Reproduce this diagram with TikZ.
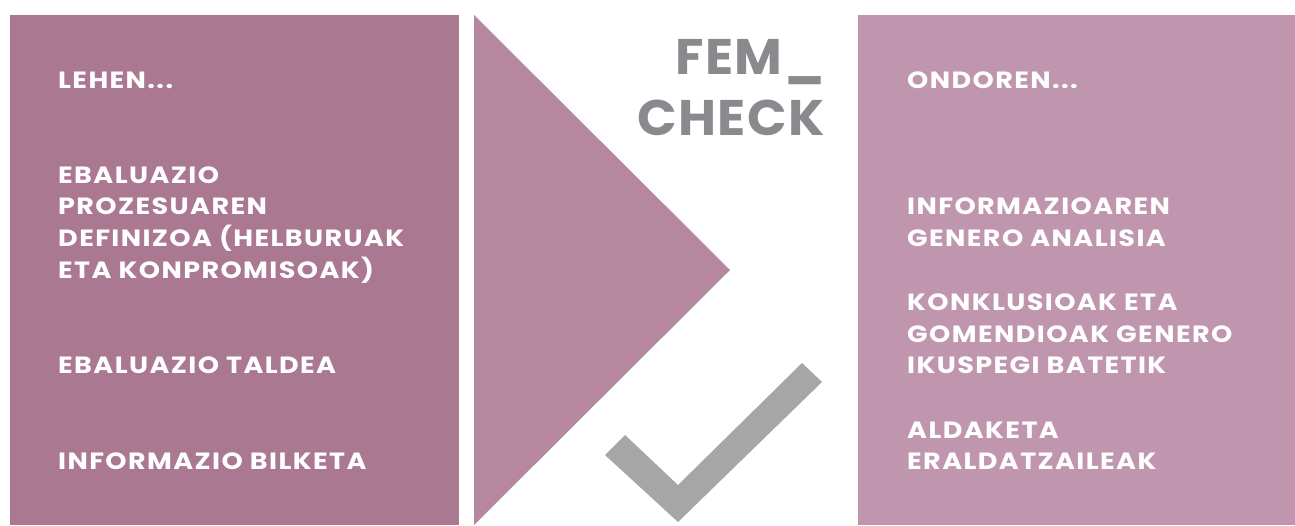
\documentclass[tikz,border=0pt]{standalone}
\usepackage{fontspec}
\setmainfont{Poppins}[BoldFont={* Bold}]
\newfontfamily\wide{Poppins}[BoldFont={* Bold},FakeStretch=1.15,LetterSpace=6]
\newfontfamily\femfont{Poppins}[BoldFont={* Bold},FakeStretch=1.04,LetterSpace=3]
\definecolor{leftbox}{HTML}{AB7891}
\definecolor{tri}{HTML}{B6889F}
\definecolor{rightbox}{HTML}{C096AE}
\definecolor{femgray}{HTML}{898A8E}
\definecolor{checkgray}{HTML}{A6A6A6}
\begin{document}
\begin{tikzpicture}[x=1pt,y=-1pt,
  txt/.style={anchor=base west,inner sep=0pt,text=white,font=\wide\fontsize{23.5}{26}\selectfont\bfseries},
  fem/.style={anchor=base east,inner sep=0pt,text=femgray,font=\femfont\fontsize{50}{56}\selectfont\bfseries}]
\useasboundingbox (0,0) rectangle (1295,525);
\fill[white] (0,0) rectangle (1295,525);
\fill[leftbox] (10,15) rectangle (459,525);
\fill[tri] (474,15) -- (730,270) -- (474,525) -- cycle;
\fill[rightbox] (858,15) rectangle (1295,525);
\fill[checkgray] (605,455) -- (625,435) -- (678,485) -- (802,363) -- (822,382) -- (678,522) -- cycle;
% FEM_CHECK
\node[fem] (fem) at (825,74) {FEM\_};
\node[fem] (check) at (825,135) {CHECK};
% left column
\node[txt] (lehen) at (58,88) {LEHEN...};
\node[txt] (e1) at (58,183) {EBALUAZIO};
\node[txt] (e2) at (58,214) {PROZESUAREN};
\node[txt] (e3) at (58,246) {DEFINIZOA (HELBURUAK};
\node[txt] (e4) at (58,278) {ETA KONPROMISOAK)};
\node[txt] (talde) at (58,373) {EBALUAZIO TALDEA};
\node[txt] (bilk) at (58,469) {INFORMAZIO BILKETA};
% right column
\node[txt] (ondo) at (907,88) {ONDOREN...};
\node[txt] (r1) at (907,214) {INFORMAZIOAREN};
\node[txt] (r2) at (907,246) {GENERO ANALISIA};
\node[txt] (r3) at (907,310) {KONKLUSIOAK ETA};
\node[txt] (r4) at (907,342) {GOMENDIOAK GENERO};
\node[txt] (r5) at (907,373) {IKUSPEGI BATETIK};
\node[txt] (r6) at (907,438) {ALDAKETA};
\node[txt] (r7) at (907,469) {ERALDATZAILEAK};
\end{tikzpicture}
\end{document}
